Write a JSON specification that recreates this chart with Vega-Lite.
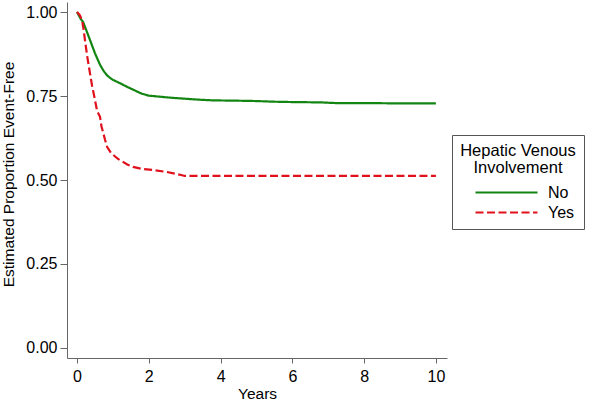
{
  "$schema": "https://vega.github.io/schema/vega-lite/v6.json",
  "autosize": "none",
  "width": 380,
  "height": 356,
  "padding": {"left": 67, "top": 2, "right": 154, "bottom": 43},
  "background": "white",
  "config": {
    "view": {"stroke": null},
    "font": "Liberation Sans"
  },
  "data": {
    "values": [
      {"t": 0, "s": 1.0, "g": "No"},
      {"t": 0.05, "s": 0.99, "g": "No"},
      {"t": 0.1, "s": 0.98, "g": "No"},
      {"t": 0.17, "s": 0.97, "g": "No"},
      {"t": 0.25, "s": 0.948, "g": "No"},
      {"t": 0.36, "s": 0.917, "g": "No"},
      {"t": 0.5, "s": 0.877, "g": "No"},
      {"t": 0.64, "s": 0.843, "g": "No"},
      {"t": 0.75, "s": 0.823, "g": "No"},
      {"t": 0.84, "s": 0.811, "g": "No"},
      {"t": 0.92, "s": 0.804, "g": "No"},
      {"t": 1.0, "s": 0.798, "g": "No"},
      {"t": 1.2, "s": 0.788, "g": "No"},
      {"t": 1.4, "s": 0.777, "g": "No"},
      {"t": 1.6, "s": 0.767, "g": "No"},
      {"t": 1.8, "s": 0.757, "g": "No"},
      {"t": 2.0, "s": 0.751, "g": "No"},
      {"t": 2.3, "s": 0.748, "g": "No"},
      {"t": 2.6, "s": 0.745, "g": "No"},
      {"t": 3.0, "s": 0.742, "g": "No"},
      {"t": 3.4, "s": 0.739, "g": "No"},
      {"t": 3.8, "s": 0.737, "g": "No"},
      {"t": 4.5, "s": 0.736, "g": "No"},
      {"t": 5.0, "s": 0.735, "g": "No"},
      {"t": 5.5, "s": 0.733, "g": "No"},
      {"t": 6.0, "s": 0.732, "g": "No"},
      {"t": 6.8, "s": 0.731, "g": "No"},
      {"t": 7.2, "s": 0.729, "g": "No"},
      {"t": 8.0, "s": 0.729, "g": "No"},
      {"t": 9.0, "s": 0.728, "g": "No"},
      {"t": 10.0, "s": 0.728, "g": "No"},
      {"t": 0, "s": 1.0, "g": "Yes"},
      {"t": 0.08, "s": 0.99, "g": "Yes"},
      {"t": 0.14, "s": 0.975, "g": "Yes"},
      {"t": 0.18, "s": 0.95, "g": "Yes"},
      {"t": 0.22, "s": 0.917, "g": "Yes"},
      {"t": 0.28, "s": 0.87, "g": "Yes"},
      {"t": 0.36, "s": 0.818, "g": "Yes"},
      {"t": 0.42, "s": 0.78, "g": "Yes"},
      {"t": 0.5, "s": 0.738, "g": "Yes"},
      {"t": 0.56, "s": 0.705, "g": "Yes"},
      {"t": 0.64, "s": 0.688, "g": "Yes"},
      {"t": 0.68, "s": 0.66, "g": "Yes"},
      {"t": 0.73, "s": 0.64, "g": "Yes"},
      {"t": 0.78, "s": 0.62, "g": "Yes"},
      {"t": 0.84, "s": 0.598, "g": "Yes"},
      {"t": 0.95, "s": 0.58, "g": "Yes"},
      {"t": 1.06, "s": 0.57, "g": "Yes"},
      {"t": 1.15, "s": 0.562, "g": "Yes"},
      {"t": 1.28, "s": 0.554, "g": "Yes"},
      {"t": 1.4, "s": 0.546, "g": "Yes"},
      {"t": 1.56, "s": 0.539, "g": "Yes"},
      {"t": 1.8, "s": 0.533, "g": "Yes"},
      {"t": 2.1, "s": 0.53, "g": "Yes"},
      {"t": 2.5, "s": 0.524, "g": "Yes"},
      {"t": 2.9, "s": 0.515, "g": "Yes"},
      {"t": 3.0, "s": 0.512, "g": "Yes"},
      {"t": 10.0, "s": 0.512, "g": "Yes"}
    ]
  },
  "mark": {"type": "line", "strokeWidth": 2.2, "clip": true},
  "encoding": {
    "x": {
      "field": "t", "type": "quantitative", "title": "Years",
      "scale": {"domain": [-0.28, 10.31], "nice": false, "zero": false},
      "axis": {"values": [0, 2, 4, 6, 8, 10], "grid": false, "domainColor": "#666", "tickColor": "#666",
               "tickSize": 5, "labelFontSize": 16, "labelColor": "#000", "labelPadding": 5,
               "titleFontSize": 15.5, "titleFontWeight": "normal", "titleColor": "#000", "titlePadding": 2, "labelFlush": false}
    },
    "y": {
      "field": "s", "type": "quantitative", "title": "Estimated Proportion Event-Free",
      "scale": {"domain": [-0.0298, 1.0298], "nice": false, "zero": false},
      "axis": {"values": [0, 0.25, 0.5, 0.75, 1], "format": ".2f", "grid": false, "domainColor": "#666", "tickColor": "#666",
               "tickSize": 7, "labelFontSize": 16, "labelColor": "#000", "labelPadding": 3,
               "titleFontSize": 15.5, "titleFontWeight": "normal", "titleColor": "#000", "titlePadding": 9, "titleY": 172, "labelFlush": false}
    },
    "color": {
      "field": "g", "type": "nominal",
      "scale": {"domain": ["No", "Yes"], "range": ["#128512", "#e0101c"]},
      "legend": {
        "title": ["\u00a0\u2009Hepatic Venous\u00a0\u2009", "Involvement"],
        "orient": "none", "legendX": 385, "legendY": 133,
        "titleAnchor": "middle", "titleFontSize": 16.5, "titleFontWeight": "normal", "titleColor": "#000", "titleLineHeight": 17,
        "labelFontSize": 16, "labelColor": "#000", "labelOffset": 9,
        "symbolType": "stroke", "symbolSize": 3844, "symbolStrokeWidth": 2.2, "symbolOffset": 12,
        "clipHeight": 12,
        "strokeColor": "#555", "padding": 8, "rowPadding": 4, "titlePadding": 10
      }
    },
    "strokeDash": {
      "field": "g", "type": "nominal",
      "scale": {"domain": ["No", "Yes"], "range": [[1, 0], [8, 3.5]]},
      "legend": {
        "title": ["\u00a0\u2009Hepatic Venous\u00a0\u2009", "Involvement"],
        "orient": "none", "legendX": 385, "legendY": 133,
        "titleAnchor": "middle", "titleFontSize": 16.5, "titleFontWeight": "normal", "titleColor": "#000", "titleLineHeight": 17,
        "labelFontSize": 16, "labelColor": "#000", "labelOffset": 9,
        "symbolType": "stroke", "symbolSize": 3844, "symbolStrokeWidth": 2.2, "symbolOffset": 12,
        "clipHeight": 12,
        "strokeColor": "#555", "padding": 8, "rowPadding": 4, "titlePadding": 10
      }
    }
  }
}
